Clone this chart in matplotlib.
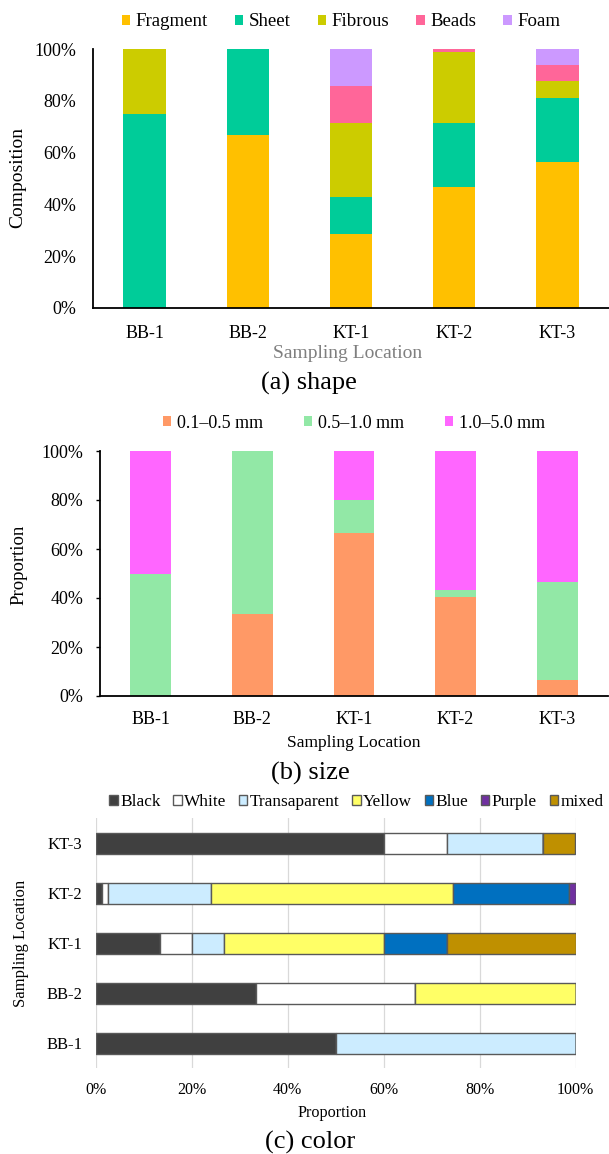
import matplotlib
matplotlib.use("Agg")
import matplotlib.pyplot as plt
import numpy as np

plt.rcParams['font.family'] = ['Liberation Serif', 'DejaVu Serif']

# ---------------- data ----------------
locations = ['BB-1', 'BB-2', 'KT-1', 'KT-2', 'KT-3']

shape_names = ['Fragment', 'Sheet', 'Fibrous', 'Beads', 'Foam']
fragment = [0.0, 66.7, 28.6, 46.6, 56.25]
sheet = [75.0, 33.3, 14.3, 24.7, 25.0]
fibrous = [25.0, 0.0, 28.6, 27.4, 6.25]
beads = [0.0, 0.0, 14.3, 1.3, 6.25]
foam = [0.0, 0.0, 14.2, 0.0, 6.25]

size_names = ['0.1\u20130.5 mm', '0.5\u20131.0 mm', '1.0\u20135.0 mm']
size_small = [0.0, 33.3, 66.7, 40.5, 6.7]
size_mid = [50.0, 66.7, 13.3, 2.7, 40.0]
size_large = [50.0, 0.0, 20.0, 56.8, 53.3]

color_names = ['Black', 'White', 'Transaparent', 'Yellow', 'Blue', 'Purple', 'mixed']
c_black = [50.0, 33.3, 13.3, 1.3, 60.0]
c_white = [0.0, 33.3, 6.7, 1.3, 13.3]
c_trans = [50.0, 0.0, 6.7, 21.3, 20.0]
c_yellow = [0.0, 33.4, 33.3, 50.5, 0.0]
c_blue = [0.0, 0.0, 13.3, 24.2, 0.0]
c_purple = [0.0, 0.0, 0.0, 1.4, 0.0]
c_mixed = [0.0, 0.0, 26.7, 0.0, 6.7]

# ---------------- styles ----------------
shape_colors = ['#FFC000', '#00CC99', '#CCCC00', '#FF6699', '#CC99FF']
size_colors = ['#FF9966', '#92E8A6', '#FF66FF']
color_colors = ['#404040', '#FFFFFF', '#CCECFF', '#FFFF66', '#0070C0', '#7030A0', '#BF9000']

W, H = 609, 1154
fig = plt.figure(figsize=(W / 100, H / 100), dpi=100)


def fx(px):
    return px / W


def fy(py):
    return 1 - py / H


def axes_px(l, t, r, b):
    return fig.add_axes([fx(l), fy(b), (r - l) / W, (b - t) / H])


def pct(v, pos):
    return f"{v:.0f}%"


# ---------------- (a) shape ----------------
axa = axes_px(93, 49, 609, 308)
x = np.arange(len(locations))
bottom = np.zeros(len(locations))
for name, vals, col in zip(shape_names, [fragment, sheet, fibrous, beads, foam], shape_colors):
    axa.bar(x, vals, 0.41, bottom=bottom, color=col, label=name, linewidth=0)
    bottom += np.array(vals)
axa.set_xlim(-0.5, 4.5)
axa.set_ylim(0, 100)
axa.set_yticks(np.arange(0, 101, 20))
axa.yaxis.set_major_formatter(matplotlib.ticker.FuncFormatter(pct))
axa.set_xticks(x)
axa.set_xticklabels(locations)
axa.tick_params(axis='both', length=0, labelsize=13)
axa.tick_params(axis='y', pad=12)
axa.tick_params(axis='x', pad=12)
for s in ['top', 'right']:
    axa.spines[s].set_visible(False)
for s in ['left', 'bottom']:
    axa.spines[s].set_linewidth(1.3)
fig.text(fx(17.5), fy(178), 'Composition', rotation=90, ha='center', va='center', fontsize=14)
fig.text(fx(348), fy(353), 'Sampling Location', ha='center', va='center', fontsize=14, color='#7F7F7F')
fig.text(fx(309), fy(383), '(a) shape', ha='center', va='center', fontsize=19)
ha_, la_ = axa.get_legend_handles_labels()
fig.legend(ha_, la_, loc='center', bbox_to_anchor=(fx(341), fy(22)), ncol=5, frameon=False,
           fontsize=13.6, handlelength=0.45, handleheight=0.45, handletextpad=0.3,
           columnspacing=1.42, borderpad=0)

# ---------------- (b) size ----------------
axb = axes_px(100, 451, 608, 696)
bottom = np.zeros(len(locations))
for name, vals, col in zip(size_names, [size_small, size_mid, size_large], size_colors):
    axb.bar(x, vals, 0.40, bottom=bottom, color=col, label=name, linewidth=0)
    bottom += np.array(vals)
axb.set_xlim(-0.5, 4.5)
axb.set_ylim(0, 100)
axb.set_yticks(np.arange(0, 101, 20))
axb.yaxis.set_major_formatter(matplotlib.ticker.FuncFormatter(pct))
axb.set_xticks(x)
axb.set_xticklabels(locations)
axb.tick_params(axis='both', labelsize=13)
axb.tick_params(axis='y', length=3, width=1, pad=9)
axb.tick_params(axis='x', length=0, pad=11)
for s in ['top', 'right']:
    axb.spines[s].set_visible(False)
for s in ['left', 'bottom']:
    axb.spines[s].set_linewidth(1.3)
fig.text(fx(19), fy(565), 'Proportion', rotation=90, ha='center', va='center', fontsize=13.5)
fig.text(fx(354), fy(743), 'Sampling Location', ha='center', va='center', fontsize=12.6)
fig.text(fx(310), fy(773), '(b) size', ha='center', va='center', fontsize=19)
hb, lb = axb.get_legend_handles_labels()
fig.legend(hb, lb, loc='center', bbox_to_anchor=(fx(354), fy(423)), ncol=3, frameon=False,
           fontsize=13, handlelength=0.45, handleheight=0.45, handletextpad=0.3,
           columnspacing=2.3, borderpad=0)

# ---------------- (c) color ----------------
axc = axes_px(96, 818, 575.5, 1068)
left = np.zeros(len(locations))
for name, vals, col in zip(color_names,
                           [c_black, c_white, c_trans, c_yellow, c_blue, c_purple, c_mixed],
                           color_colors):
    axc.barh(x, vals, 0.42, left=left, color=col, label=name,
             edgecolor='#595959', linewidth=1.0, zorder=3)
    left += np.array(vals)
axc.set_xlim(0, 100)
axc.set_ylim(-0.5, 4.5)
axc.set_xticks(np.arange(0, 101, 20))
axc.xaxis.set_major_formatter(matplotlib.ticker.FuncFormatter(pct))
axc.set_yticks(x)
axc.set_yticklabels(locations)
axc.tick_params(axis='both', length=0, labelsize=12)
axc.tick_params(axis='x', labelsize=11.5, pad=10)
axc.tick_params(axis='y', pad=10)
axc.grid(axis='x', color='#D9D9D9', linewidth=0.9, zorder=0)
axc.set_axisbelow(True)
for s in axc.spines.values():
    s.set_visible(False)
fig.text(fx(21), fy(943), 'Sampling Location', rotation=90, ha='center', va='center', fontsize=12)
fig.text(fx(332), fy(1113), 'Proportion', ha='center', va='center', fontsize=11.6)
fig.text(fx(310), fy(1142), '(c) color', ha='center', va='center', fontsize=19)
hc, lc = axc.get_legend_handles_labels()
fig.legend(hc, lc, loc='center', bbox_to_anchor=(fx(356.5), fy(802)), ncol=7, frameon=False,
           fontsize=12.4, handlelength=0.48, handleheight=0.48, handletextpad=0.15,
           columnspacing=0.73, borderpad=0)

fig.savefig('out.png', dpi=100)
